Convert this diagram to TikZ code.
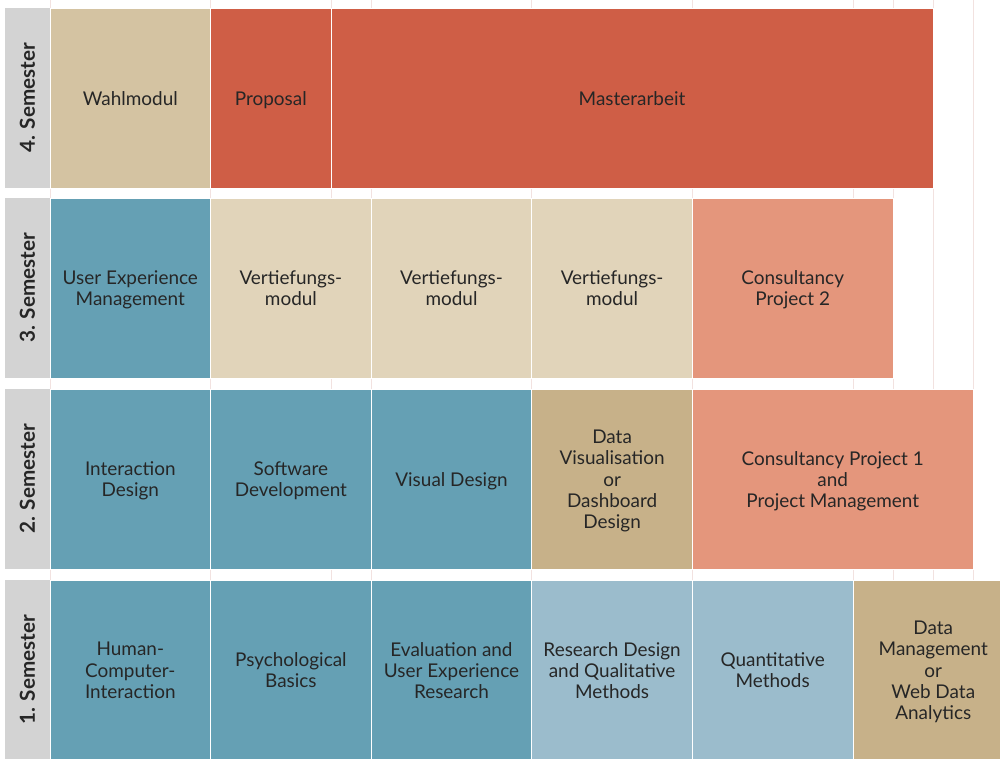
\documentclass[tikz,border=0pt]{standalone}
\usepackage{fontspec}
\setmainfont{Lato}
\newlength\pxu \setlength\pxu{0.75pt}
\definecolor{cgrey}{HTML}{D3D3D3}
\definecolor{cwahl}{HTML}{D4C3A2}
\definecolor{cred}{HTML}{CF5E46}
\definecolor{cblue}{HTML}{65A0B4}
\definecolor{cbeige}{HTML}{E1D4BA}
\definecolor{csalmon}{HTML}{E4967C}
\definecolor{ctan}{HTML}{C7B189}
\definecolor{clblue}{HTML}{9BBCCC}
\definecolor{ctext}{HTML}{262626}
\definecolor{cgrid}{HTML}{F2E2E0}
\tikzset{
  mod/.style={draw=white, line width=1\pxu, inner sep=0pt, outer sep=0pt, anchor=north west,
    minimum height=180\pxu},
  modtext/.style={align=center, text=ctext, inner sep=0pt, outer sep=0pt, yshift=-3.5\pxu,
    font=\fontsize{14.2}{15.9}\selectfont,
    execute at begin node=\strut, execute at end node=\strut},
  sem/.style={fill=cgrey, inner sep=0pt, outer sep=0pt, anchor=north west,
    minimum width=45\pxu, minimum height=180\pxu},
  semlabel/.style={rotate=90, font=\bfseries\fontsize{15.5}{17}\selectfont, text=ctext},
  gridline/.style={draw=cgrid, line width=0.8\pxu}
}
\begin{document}
\begin{tikzpicture}[x=0.75pt, y=-0.75pt]
\useasboundingbox (0,0) rectangle (1000,758);
\clip (0,0) rectangle (1000,758);
% faint grid lines
\foreach \gx in {50,210.6,331,371.2,531.8,692.4,853,893,933,973}
  \draw[gridline] (\gx,0) -- (\gx,758);
% semester label cells
\node[sem] (s4) at (5,8) {};
\node[sem] (s3) at (5,198) {};
\node[sem] (s2) at (5,389) {};
\node[sem] (s1) at (5,580) {};
\node[semlabel] (l4) at (s4.center) {4. Semester};
\node[semlabel] (l3) at (s3.center) {3. Semester};
\node[semlabel] (l2) at (s2.center) {2. Semester};
\node[semlabel] (l1) at (s1.center) {1. Semester};
% row 4
\node[mod, fill=cwahl, minimum width=160.6\pxu] (wahl) at (50,8) {};
\node[mod, fill=cred, minimum width=120.4\pxu] (prop) at (210.6,8) {};
\node[mod, fill=cred, minimum width=602\pxu] (ma) at (331,8) {};
% row 3
\node[mod, fill=cblue, minimum width=160.6\pxu] (uxm) at (50,198) {};
\node[mod, fill=cbeige, minimum width=160.6\pxu] (v1) at (210.6,198) {};
\node[mod, fill=cbeige, minimum width=160.6\pxu] (v2) at (371.2,198) {};
\node[mod, fill=cbeige, minimum width=160.6\pxu] (v3) at (531.8,198) {};
\node[mod, fill=csalmon, minimum width=200.6\pxu] (cp2) at (692.4,198) {};
% row 2
\node[mod, fill=cblue, minimum width=160.6\pxu] (ixd) at (50,389) {};
\node[mod, fill=cblue, minimum width=160.6\pxu] (sw) at (210.6,389) {};
\node[mod, fill=cblue, minimum width=160.6\pxu] (vd) at (371.2,389) {};
\node[mod, fill=ctan, minimum width=160.6\pxu] (dv) at (531.8,389) {};
\node[mod, fill=csalmon, minimum width=280.6\pxu] (cp1) at (692.4,389) {};
% row 1
\node[mod, fill=cblue, minimum width=160.6\pxu] (hci) at (50,580) {};
\node[mod, fill=cblue, minimum width=160.6\pxu] (psy) at (210.6,580) {};
\node[mod, fill=cblue, minimum width=160.6\pxu] (eval) at (371.2,580) {};
\node[mod, fill=clblue, minimum width=160.6\pxu] (rd) at (531.8,580) {};
\node[mod, fill=clblue, minimum width=160.6\pxu] (qm) at (692.4,580) {};
\node[mod, fill=ctan, minimum width=160.6\pxu] (dm) at (853,580) {};
% texts
\node[modtext] (t-wahl) at (wahl.center) {Wahlmodul};
\node[modtext] (t-prop) at (prop.center) {Proposal};
\node[modtext] (t-ma) at (ma.center) {Masterarbeit};
\node[modtext] (t-uxm) at (uxm.center) {User Experience\\Management};
\node[modtext] (t-v1) at (v1.center) {Vertiefungs-\\modul};
\node[modtext] (t-v2) at (v2.center) {Vertiefungs-\\modul};
\node[modtext] (t-v3) at (v3.center) {Vertiefungs-\\modul};
\node[modtext] (t-cp2) at (cp2.center) {Consultancy\\Project 2};
\node[modtext] (t-ixd) at (ixd.center) {Interaction\\Design};
\node[modtext] (t-sw) at (sw.center) {Software\\Development};
\node[modtext] (t-vd) at (vd.center) {Visual Design};
\node[modtext] (t-dv) at (dv.center) {Data\\Visualisation\\or\\Dashboard\\Design};
\node[modtext] (t-cp1) at (cp1.center) {Consultancy Project 1\\and\\Project Management};
\node[modtext] (t-hci) at (hci.center) {Human-\\Computer-\\Interaction};
\node[modtext] (t-psy) at (psy.center) {Psychological\\Basics};
\node[modtext] (t-eval) at (eval.center) {Evaluation and\\User Experience\\Research};
\node[modtext] (t-rd) at (rd.center) {Research Design\\and Qualitative\\Methods};
\node[modtext] (t-qm) at (qm.center) {Quantitative\\Methods};
\node[modtext] (t-dm) at (dm.center) {Data\\Management\\or\\Web Data\\Analytics};
\end{tikzpicture}
\end{document}
